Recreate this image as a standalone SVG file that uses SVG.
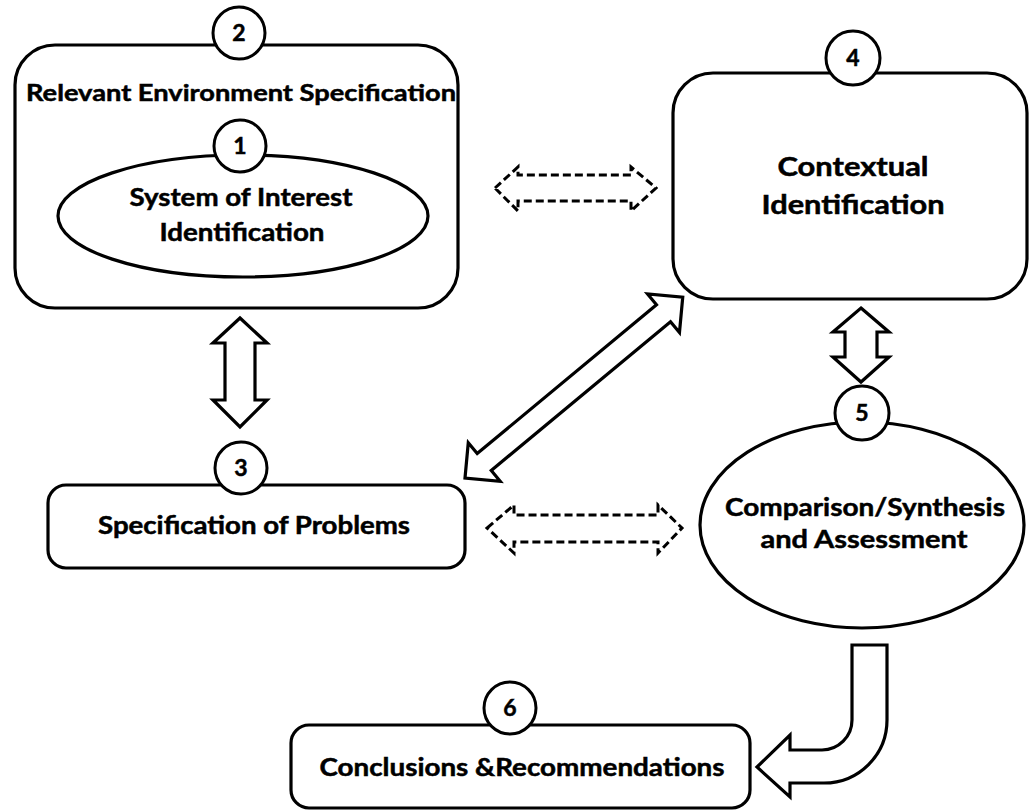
<svg xmlns="http://www.w3.org/2000/svg" width="1030" height="810" viewBox="0 0 1030 810">
<style>
.shape{fill:#fff;stroke:#000;stroke-width:3.2}
.badge{fill:#fff;stroke:#000;stroke-width:3}
.lbl{font-family:Lato,"Open Sans","Liberation Sans",sans-serif;font-weight:bold;fill:#000;stroke:#000;stroke-width:0.5;text-anchor:middle}
.num{font-family:Lato,"Open Sans","Liberation Sans",sans-serif;font-weight:bold;font-size:23px;fill:#000;stroke:#000;stroke-width:0.5;text-anchor:middle}
.blk{fill:#fff;stroke:#000;stroke-width:3.2;stroke-linejoin:miter}
.dash{fill:none;stroke:#000;stroke-width:3;stroke-dasharray:8 4}
</style>
<rect width="1030" height="810" fill="#fff"/>
<g id="connectors">
<polygon class="blk" points="240,318 267,343 255,343 255,400 267,400 240,427 213,400 225,400 225,343 213,343"/>
<polygon class="blk" points="861,308 889,332 877,332 877,357 889,357 861,382 833,357 845,357 845,332 833,332"/>
<polygon class="blk" transform="translate(465,478) rotate(-39.7)" points="0,0 25,-25 25,-11 258,-11 258,-25 283,0 258,25 258,11 25,11 25,25"/>
<polygon class="dash" points="495,188 518,167 518,175 631,175 631,167 656,188 631,211 631,201 518,201 518,211"/>
<polygon class="dash" points="487,528 514,505 514,515 658,515 658,505 682,528 658,553 658,542 514,542 514,553"/>
<path class="blk" d="M852 645 L887 645 L887 720 A63 63 0 0 1 824 783 L790 783 L790 797 L757 767 L790 735 L790 750 L822 750 A30 30 0 0 0 852 720 Z"/>
</g>
<g id="node2">
<rect class="shape" x="15" y="45" width="443" height="263" rx="40"/>
<circle class="badge" cx="239" cy="33" r="26"/>
<text class="num" x="239" y="41">2</text>
<text class="lbl" x="241" y="101" font-size="23" textLength="430" lengthAdjust="spacingAndGlyphs">Relevant Environment Specification</text>
</g>
<g id="node1">
<ellipse class="shape" cx="243" cy="216" rx="185" ry="61"/>
<circle class="badge" cx="240" cy="146" r="26"/>
<text class="num" x="240" y="154">1</text>
<text class="lbl" x="241" y="206" font-size="25" textLength="223" lengthAdjust="spacingAndGlyphs">System of Interest</text>
<text class="lbl" x="242" y="241" font-size="25" textLength="165" lengthAdjust="spacingAndGlyphs">Identification</text>
</g>
<g id="node4">
<rect class="shape" x="673" y="73" width="354" height="226" rx="40"/>
<circle class="badge" cx="853" cy="58" r="27"/>
<text class="num" x="853" y="66">4</text>
<text class="lbl" x="853" y="176" font-size="27" textLength="151" lengthAdjust="spacingAndGlyphs">Contextual</text>
<text class="lbl" x="853" y="214" font-size="27" textLength="183" lengthAdjust="spacingAndGlyphs">Identification</text>
</g>
<g id="node3">
<rect class="shape" x="48" y="485" width="417" height="83" rx="18"/>
<circle class="badge" cx="241" cy="468" r="26"/>
<text class="num" x="241" y="476">3</text>
<text class="lbl" x="254" y="534" font-size="24" textLength="312" lengthAdjust="spacingAndGlyphs">Specification of Problems</text>
</g>
<g id="node5">
<ellipse class="shape" cx="862" cy="525" rx="162" ry="103"/>
<circle class="badge" cx="862" cy="413" r="27"/>
<text class="num" x="862" y="421">5</text>
<text class="lbl" x="865" y="516" font-size="25" textLength="280" lengthAdjust="spacingAndGlyphs">Comparison/Synthesis</text>
<text class="lbl" x="864" y="548" font-size="25" textLength="207" lengthAdjust="spacingAndGlyphs">and Assessment</text>
</g>
<g id="node6">
<rect class="shape" x="291" y="725" width="459" height="83" rx="18"/>
<circle class="badge" cx="510" cy="708" r="26"/>
<text class="num" x="510" y="716">6</text>
<text class="lbl" x="522" y="776" font-size="24" textLength="405" lengthAdjust="spacingAndGlyphs">Conclusions &amp;Recommendations</text>
</g>
</svg>
